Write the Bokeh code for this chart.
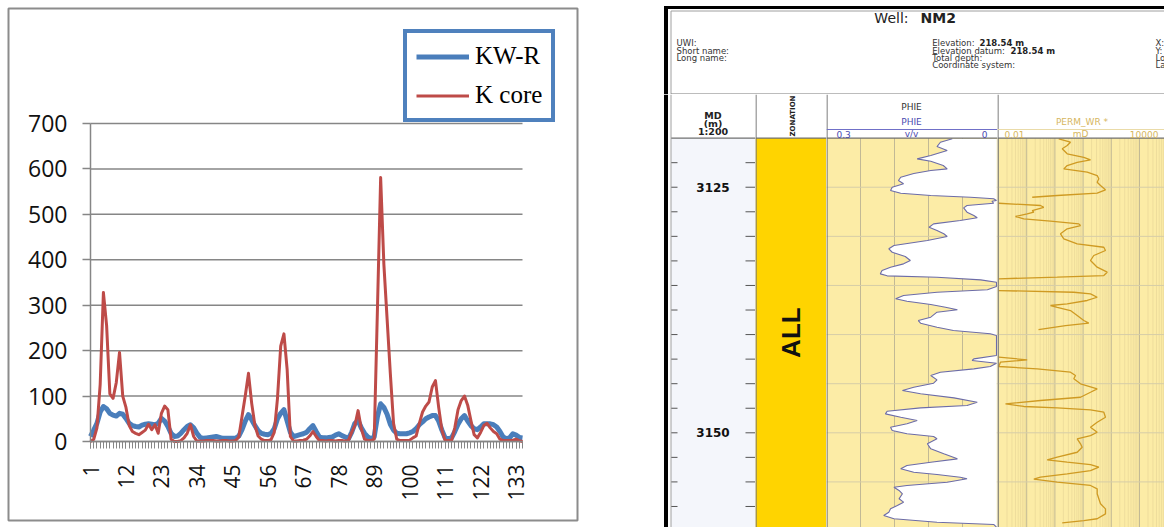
import math
from bokeh.plotting import figure
from bokeh.models import (Range1d, FixedTicker, Legend, LegendItem, LinearAxis,
                          Span, Label, LogScale)
from bokeh.layouts import row, column
from bokeh.embed import file_html
from bokeh.resources import INLINE
from bokeh.core.properties import value

# ---------------- permeability comparison ----------------
sample_no = list(range(1, 136))
kw_r = [11, 25, 40, 65, 77, 72, 62, 58, 56, 62,
        60, 51, 40, 35, 33, 32, 36, 38, 39, 38,
        37, 40, 51, 45, 33, 18, 11, 12, 18, 26,
        33, 37, 30, 18, 9, 7, 8, 9, 10, 11,
        9, 7, 7, 7, 7, 7, 12, 26, 45, 59,
        48, 35, 24, 18, 16, 15, 18, 28, 50, 62,
        70, 45, 20, 11, 13, 15, 17, 20, 28, 35,
        22, 10, 8, 8, 9, 10, 14, 17, 13, 10,
        6, 20, 40, 46, 30, 18, 10, 6, 10, 55,
        83, 75, 60, 38, 25, 18, 17, 17, 17, 19,
        22, 28, 37, 43, 50, 54, 57, 57, 45, 25,
        8, 6, 8, 22, 38, 50, 57, 45, 35, 28,
        26, 32, 39, 39, 39, 37, 32, 22, 10, 6,
        8, 17, 14, 9, 8]
k_core = [0, 5, 30, 125, 328, 255, 105, 95, 130, 196,
          100, 75, 35, 22, 18, 15, 20, 25, 38, 26,
          37, 18, 62, 78, 70, 5, 0, 0, 2, 8,
          18, 37, 11, 1, 1, 1, 2, 2, 2, 1,
          1, 2, 2, 1, 1, 2, 10, 55, 100, 150,
          84, 35, 12, 5, 2, 2, 4, 20, 95, 210,
          237, 158, 11, 1, 1, 2, 3, 5, 12, 22,
          11, 2, 2, 1, 2, 2, 1, 2, 2, 1,
          2, 20, 35, 68, 28, 5, 2, 2, 5, 290,
          581, 390, 270, 150, 40, 5, 2, 2, 2, 3,
          8, 12, 40, 65, 78, 87, 120, 134, 75, 25,
          2, 2, 2, 30, 70, 90, 100, 80, 46, 15,
          8, 20, 35, 40, 30, 22, 17, 5, 2, 2,
          2, 3, 5, 2, 0]
sample_ticks = [1, 12, 23, 34, 45, 56, 67, 78, 89, 100, 111, 122, 133]
perm_ticks = [0, 100, 200, 300, 400, 500, 600, 700]

GRAY = "#868686"
BLUE = "#4A7EBB"
RED = "#BE4B48"

# The frame is the bordered chart box; the plot area (samples 1..135, 0..700)
# sits inside it with room for the axes and the legend.
PX_PER_SAMPLE = 432 / 134
PX_PER_UNIT = 318 / 700
chart = figure(width=640, height=527,
               x_range=Range1d(1 - 82 / PX_PER_SAMPLE, 135 + 55 / PX_PER_SAMPLE),
               y_range=Range1d(-79 / PX_PER_UNIT, 700 + 115 / PX_PER_UNIT),
               x_axis_location=None, y_axis_location=None,
               output_backend="svg", toolbar_location=None,
               min_border_left=8, min_border_right=63, min_border_top=8,
               min_border_bottom=7)
chart.grid.visible = False
chart.outline_line_color = "#8C8C8C"
chart.outline_line_width = 2
chart.background_fill_color = "white"
chart.border_fill_color = "white"

chart.segment(x0=[1] * len(perm_ticks), y0=perm_ticks, x1=[135] * len(perm_ticks),
              y1=perm_ticks, line_color=GRAY, line_width=1.5)

r_kw = chart.line(sample_no, kw_r, line_color=BLUE, line_width=5, line_join="round")
r_core = chart.line(sample_no, k_core, line_color=RED, line_width=3, line_join="round")

yaxis = LinearAxis(fixed_location=1, bounds=(0, 700), ticker=FixedTicker(ticks=perm_ticks),
                   axis_line_color=GRAY, axis_line_width=1.5,
                   major_tick_line_color=GRAY, major_tick_line_width=1.5,
                   major_tick_out=8, major_tick_in=0, minor_tick_line_color=None,
                   major_label_standoff=15, major_label_text_font="Open Sans",
                   major_label_text_font_size="23px", major_label_text_color="#111111")
chart.add_layout(yaxis, "left")
xaxis = LinearAxis(fixed_location=0, bounds=(1, 135),
                   ticker=FixedTicker(ticks=sample_ticks, minor_ticks=sample_no),
                   axis_line_color=GRAY, axis_line_width=1.5,
                   major_tick_line_color=GRAY, minor_tick_line_color=GRAY,
                   major_tick_out=7, major_tick_in=0, minor_tick_out=7, minor_tick_in=0,
                   major_label_orientation=math.pi / 2, major_label_standoff=16,
                   major_label_text_font="Open Sans", major_label_text_font_size="21px",
                   major_label_text_color="#111111")
chart.add_layout(xaxis, "below")

legend = Legend(items=[LegendItem(label="KW-R", renderers=[r_kw]),
                       LegendItem(label="K core", renderers=[r_core])],
                location=(395, 398), orientation="vertical",
                border_line_color="#4F81BD", border_line_width=4, border_line_alpha=1,
                background_fill_color="white", background_fill_alpha=1,
                label_text_font="Liberation Serif", label_text_font_size="25px",
                label_text_color="black", glyph_width=53, glyph_height=25,
                label_height=25, spacing=11, padding=9, margin=0, label_standoff=6)
chart.add_layout(legend)

# ---------------- well log NM2 ----------------
phie_depth = [3120.07, 3120.42, 3120.86, 3121.26, 3121.77, 3122.11, 3122.35, 3122.79, 3123.13, 3123.30,
              3123.61, 3123.98, 3124.32, 3124.65, 3125.00, 3125.34, 3125.61, 3125.84, 3126.02, 3126.18,
              3126.35, 3126.43, 3126.63, 3126.86, 3127.10, 3127.54, 3127.88, 3128.11, 3128.39, 3128.73,
              3129.07, 3129.41, 3129.74, 3130.02, 3130.43, 3130.93, 3131.27, 3131.62, 3132.05, 3132.46,
              3132.80, 3133.14, 3133.48, 3133.82, 3134.02, 3134.16, 3134.43, 3134.67, 3135.11, 3135.44,
              3135.69, 3136.02, 3136.36, 3136.60, 3136.94, 3137.22, 3137.48, 3137.72, 3138.23, 3138.57,
              3138.84, 3139.25, 3139.59, 3139.92, 3140.10, 3142.13, 3142.47, 3142.64, 3142.92, 3143.25,
              3143.49, 3143.83, 3144.17, 3144.61, 3144.95, 3145.36, 3145.69, 3146.03, 3146.44, 3146.89,
              3147.22, 3147.46, 3147.80, 3148.07, 3148.41, 3148.75, 3149.08, 3149.43, 3149.77, 3150.10,
              3150.38, 3150.61, 3151.12, 3151.63, 3152.14, 3152.65, 3152.99, 3153.33, 3153.66, 3154.01,
              3154.24, 3154.52, 3154.68, 3155.03, 3155.36, 3155.54, 3155.87, 3156.21, 3156.72, 3157.06,
              3157.40, 3157.74, 3158.08, 3158.42, 3158.75, 3159.10, 3159.33, 3159.60]
phie = [0.078, 0.099, 0.105, 0.087, 0.116, 0.140, 0.116, 0.094, 0.087, 0.116,
        0.146, 0.169, 0.173, 0.164, 0.184, 0.187, 0.169, 0.116, 0.046, 0.005,
        0.0, 0.008, 0.005, 0.052, 0.058, 0.052, 0.040, 0.034, 0.064, 0.111,
        0.119, 0.105, 0.093, 0.087, 0.122, 0.181, 0.190, 0.184, 0.161, 0.152,
        0.164, 0.187, 0.202, 0.205, 0.193, 0.105, 0.028, 0.0, 0.0, 0.016,
        0.105, 0.164, 0.178, 0.158, 0.116, 0.090, 0.069, 0.105, 0.116, 0.138,
        0.134, 0.105, 0.076, 0.011, 0.0, 0.0, 0.040, 0.043, 0.0, 0.011,
        0.040, 0.099, 0.116, 0.105, 0.111, 0.146, 0.166, 0.134, 0.075, 0.034,
        0.052, 0.134, 0.193, 0.196, 0.169, 0.140, 0.158, 0.187, 0.184, 0.158,
        0.111, 0.105, 0.122, 0.116, 0.093, 0.069, 0.116, 0.158, 0.169, 0.146,
        0.105, 0.064, 0.052, 0.087, 0.158, 0.181, 0.172, 0.166, 0.172, 0.164,
        0.175, 0.187, 0.190, 0.199, 0.181, 0.105, 0.005, 0.0]

perm_depth = [
    [3120.07, 3120.42, 3120.76, 3121.09, 3121.60, 3121.95, 3122.21, 3122.46, 3122.79, 3123.13,
     3123.47, 3123.81, 3124.14, 3124.49, 3124.83, 3125.26, 3125.61, 3125.84, 3126.02],
    [3126.63, 3126.86, 3127.04, 3127.37, 3127.54, 3127.71, 3127.98, 3128.22, 3128.46, 3128.73,
     3128.90, 3129.23, 3129.74, 3130.25, 3130.76, 3131.11, 3131.44, 3131.95, 3132.46, 3133.14,
     3133.65, 3133.99, 3134.16, 3134.32],
    [3135.52, 3135.69, 3135.85, 3136.20, 3136.53, 3136.87, 3137.04, 3137.22, 3137.55, 3138.06,
     3138.57, 3138.84, 3139.08, 3139.49],
    [3142.30, 3142.57, 3142.81, 3143.25, 3143.49, 3143.83, 3144.17, 3144.50, 3145.01, 3145.52,
     3145.87, 3146.38, 3146.71, 3147.05, 3147.32, 3147.46, 3147.66, 3147.90, 3148.41, 3148.92,
     3149.43, 3149.94, 3150.28, 3150.61, 3151.12, 3151.47, 3151.98, 3152.48, 3152.75, 3152.99,
     3153.23, 3153.50, 3153.84, 3154.18, 3154.52, 3154.72, 3155.03, 3155.36, 3155.70, 3156.21,
     3156.72, 3157.23, 3157.74, 3158.25, 3158.75, 3158.93, 3159.16]]
perm_wr = [
    [1.37, 3.57, 2.73, 1.82, 2.73, 10.6, 18.3, 6.18, 2.73, 2.07,
     14.0, 31.6, 36.1, 31.6, 41.4, 62.2, 31.6, 1.21, 0.157],
    [0.0102, 0.308, 0.404, 0.157, 0.179, 0.104, 0.0401, 0.0789, 0.698, 7.05,
     8.09, 2.73, 1.58, 2.07, 6.18, 54.2, 62.2, 23.9, 18.3, 31.6,
     71.6, 54.2, 1.21, 0.0102],
    [0.0102, 4.68, 18.3, 31.6, 14.0, 2.73, 0.698, 1.21, 3.57, 6.18,
     10.6, 15.9, 2.38, 0.262],
    [0.0102, 0.104, 0.0117, 0.0102, 0.235, 3.57, 5.37, 4.68, 8.09, 31.6,
     18.3, 8.09, 0.308, 0.0177, 0.0789, 1.21, 18.3, 54.2, 62.2, 31.6,
     18.3, 31.6, 18.3, 6.18, 8.09, 9.29, 6.18, 1.21, 0.533, 2.73,
     18.3, 36.1, 18.3, 2.73, 0.308, 0.179, 1.21, 18.3, 31.6, 31.6,
     36.1, 41.4, 62.2, 62.2, 31.6, 10.6, 1.82]]

depth_labels = [3125, 3150]
depth_ticks = [3122.5 + 2.5 * i for i in range(15)]
depth_grid = [3125, 3130, 3135, 3140, 3145, 3150, 3155]
phie_grid = [0.06, 0.12, 0.18, 0.24]
perm_decades = [0.01, 0.1, 1, 10, 100, 1000]
perm_minor = [m * 10.0 ** e for e in range(-2, 4) for m in range(2, 10)]

DATA_TOP, DATA_BASE = 3120.0, 3160.0
VIEW_TOP, VIEW_BASE = 3115.56, 3159.64
TRACK_H = 433
PAGE_BOTTOM = 527          # page row of the track panels' lower edge
LOG_FONT = value("DejaVu Sans")
YELLOW = "#FCECA6"
GOLD = "#FFD400"
PHIE_BLUE = "#4A4AB0"
TAN = "#D6B660"
SEP = "#707070"


def log_panel(width, x_range):
    f = figure(width=width, height=TRACK_H, x_range=x_range,
               y_range=Range1d(VIEW_BASE, VIEW_TOP), x_axis_type=None, y_axis_type=None,
               output_backend="svg", toolbar_location=None, min_border=0)
    f.outline_line_color = None
    f.background_fill_color = "white"
    f.border_fill_color = "white"
    f.grid.visible = False
    return f


def header_label(f, x, page_y, text, color="#333333", size="9px", align="center",
                 x_units="screen", bold=False, angle=0.0):
    f.add_layout(Label(x=x, y=PAGE_BOTTOM - page_y, x_units=x_units, y_units="screen",
                       text=text, text_font="DejaVu Sans", text_font_size=size,
                       text_color=color, text_align=align, text_baseline="middle",
                       angle=angle, text_font_style="bold" if bold else "normal"))


# header block
hdr = figure(width=524, height=94, x_range=Range1d(0, 524), y_range=Range1d(94, 0),
             x_axis_type=None, y_axis_type=None, output_backend="svg",
             toolbar_location=None, min_border=0)
hdr.outline_line_color = None
hdr.grid.visible = False
hdr.segment(x0=[25.5, 23.5], y0=[5.5, 7], x1=[25.5, 524], y1=[94, 7],
            line_color="black", line_width=[4, 3])
hdr.segment(x0=[30.5, 30.5], y0=[10.5, 10.5], x1=[30.5, 524], y1=[94, 10.5],
            line_color="#A0A0A0", line_width=1)
hdr.segment(x0=[30.5], y0=[93.5], x1=[524], y1=[93.5], line_color="#7A7A7A", line_width=1.2)
hdr.text(x=[268], y=[17], text=["Well:"], text_font=LOG_FONT, text_font_size="14px",
         text_align="right", text_baseline="middle", text_color="#222222")
hdr.text(x=[280], y=[17], text=["NM2"], text_font=LOG_FONT, text_font_size="14px",
         text_font_style="bold", text_align="left", text_baseline="middle", text_color="#222222")
hdr.text(x=[36, 36, 36], y=[42.7, 50, 57.3], text=["UWI:", "Short name:", "Long name:"],
         text_font=LOG_FONT, text_font_size="8.5px", text_baseline="middle",
         text_color="#333333")
hdr.text(x=[291.7, 291.7, 291.7, 291.7], y=[42.7, 50, 57.3, 64.7],
         text=["Elevation:", "Elevation datum:", "Total depth:", "Coordinate system:"],
         text_font=LOG_FONT, text_font_size="8.5px", text_baseline="middle",
         text_color="#333333")
hdr.text(x=[339, 370], y=[42.7, 50], text=["218.54 m", "218.54 m"],
         text_font=LOG_FONT, text_font_size="8.5px", text_font_style="bold",
         text_baseline="middle", text_color="#222222")
hdr.text(x=[515, 515, 515, 515], y=[42.7, 50, 57.3, 64.7],
         text=["X:", "Y:", "Lo", "La"],
         text_font=LOG_FONT, text_font_size="8.5px", text_baseline="middle",
         text_color="#333333")

# depth column
dcol = log_panel(115, Range1d(0, 115))
dcol.quad(left=[30.5], right=[115], top=[DATA_TOP], bottom=[DATA_BASE],
          fill_color="#F4F6FB", line_color=None)
dcol.add_layout(Span(location=25.5, dimension="height", line_color="black", line_width=4))
dcol.add_layout(Span(location=30.5, dimension="height", line_color="#A0A0A0", line_width=1))
dcol.segment(x0=[30.5], y0=[DATA_TOP], x1=[115], y1=[DATA_TOP], line_color=SEP, line_width=1.2)
dcol.segment(x0=[30.5] * len(depth_ticks), y0=depth_ticks, x1=[37] * len(depth_ticks),
             y1=depth_ticks, line_color="#555555", line_width=1)
dcol.segment(x0=[105] * len(depth_ticks), y0=depth_ticks, x1=[115] * len(depth_ticks),
             y1=depth_ticks, line_color="#555555", line_width=1)
dcol.text(x=[72.5] * len(depth_labels), y=depth_labels, text=[str(d) for d in depth_labels],
          text_font=LOG_FONT, text_font_size="12px", text_font_style="bold",
          text_align="center", text_baseline="middle", text_color="#111111")
header_label(dcol, 72.5, 115, "MD", size="9.5px", bold=True, x_units="data", color="#222222")
header_label(dcol, 72.5, 122.7, "(m)", size="9.5px", bold=True, x_units="data", color="#222222")
header_label(dcol, 72.5, 131, "1:200", size="9.5px", bold=True, x_units="data", color="#222222")

# zonation column
zcol = log_panel(71, Range1d(0, 71))
zcol.quad(left=[0], right=[71], top=[DATA_TOP], bottom=[DATA_BASE],
          fill_color=GOLD, line_color=None)
zcol.add_layout(Span(location=0.5, location_units="screen", dimension="height",
                     line_color=SEP, line_width=1.2))
zcol.add_layout(Span(location=DATA_TOP, dimension="width", line_color=SEP, line_width=1.2))
zcol.text(x=[35.5], y=[3139.8], text=["ALL"], angle=math.pi / 2,
          text_font=value("Liberation Sans Narrow, Liberation Sans"), text_font_size="26px",
          text_font_style="bold", text_align="center", text_baseline="middle",
          text_color="#111111")
header_label(zcol, 37, 136, "ZONATION", size="7px", bold=True, x_units="data",
             align="left", angle=math.pi / 2, color="#222222")

# porosity track (0.3 -> 0 v/v)
pcol = log_panel(171, Range1d(0.3, 0.3 - 0.3 * 171 / 170))
pcol.quad(left=[0.3], right=[0], top=[DATA_TOP], bottom=[DATA_BASE],
          fill_color=YELLOW, line_color=None)
pcol.segment(x0=phie_grid, y0=[DATA_TOP] * 4, x1=phie_grid, y1=[DATA_BASE] * 4,
             line_color="#C2B995", line_width=1)
pcol.segment(x0=[0.3] * len(depth_grid), y0=depth_grid, x1=[0] * len(depth_grid),
             y1=depth_grid, line_color="#D6CDA8", line_width=1)
pcol.harea(x1=phie, x2=[0] * len(phie), y=phie_depth, fill_color="white")
pcol.line(phie, phie_depth, line_color="#6C6CA8", line_width=1.1)
pcol.add_layout(Span(location=0.5, location_units="screen", dimension="height",
                     line_color=SEP, line_width=1.2))
pcol.add_layout(Span(location=DATA_TOP, dimension="width", line_color=SEP, line_width=1.2))
pcol.add_layout(Span(location=PAGE_BOTTOM - 129, location_units="screen", dimension="width",
                     line_color="#7070C8", line_width=1))
header_label(pcol, 0.15, 106, "PHIE", x_units="data", color="#333333")
header_label(pcol, 0.15, 121, "PHIE", x_units="data", color=PHIE_BLUE)
header_label(pcol, 10, 133.5, "0.3", align="left", color=PHIE_BLUE)
header_label(pcol, 0.15, 133.5, "v/v", x_units="data", color=PHIE_BLUE)
header_label(pcol, 161, 133.5, "0", align="right", color=PHIE_BLUE)

# permeability track (log 0.01 -> 10000 mD)
DECADE_PX = 28.2
kcol = log_panel(167, Range1d(10 ** (-2 - 1 / DECADE_PX), 10 ** (-2 + 166 / DECADE_PX)))
kcol.x_scale = LogScale()
kcol.quad(left=[0.005], right=[20000], top=[DATA_TOP], bottom=[DATA_BASE],
          fill_color=YELLOW, line_color=None)
kcol.segment(x0=perm_minor, y0=[DATA_TOP] * len(perm_minor), x1=perm_minor,
             y1=[DATA_BASE] * len(perm_minor), line_color="#EEDD9C", line_width=1)
kcol.segment(x0=perm_decades, y0=[DATA_TOP] * len(perm_decades), x1=perm_decades,
             y1=[DATA_BASE] * len(perm_decades), line_color="#C2B995", line_width=1)
kcol.segment(x0=[0.005] * len(depth_grid), y0=depth_grid, x1=[20000] * len(depth_grid),
             y1=depth_grid, line_color="#D6CDA8", line_width=1)
kcol.multi_line(xs=perm_wr, ys=perm_depth, line_color="#CF9A22", line_width=1.3)
kcol.add_layout(Span(location=0.5, location_units="screen", dimension="height",
                     line_color=SEP, line_width=1.2))
kcol.add_layout(Span(location=DATA_TOP, dimension="width", line_color=SEP, line_width=1.2))
kcol.add_layout(Span(location=PAGE_BOTTOM - 129, location_units="screen", dimension="width",
                     line_color="#EADBA8", line_width=1))
header_label(kcol, 84.5, 121.5, "PERM_WR *", color=TAN)
header_label(kcol, 7, 133.5, "0.01", align="left", color=TAN)
header_label(kcol, 83, 133.5, "mD", color=TAN)
header_label(kcol, 161, 133.5, "10000", align="right", color=TAN)

well_log = column(hdr, row(dcol, zcol, pcol, kcol, spacing=0), spacing=0)
page = row(chart, well_log, spacing=0)

open("out.html", "w").write(file_html(page, INLINE))
